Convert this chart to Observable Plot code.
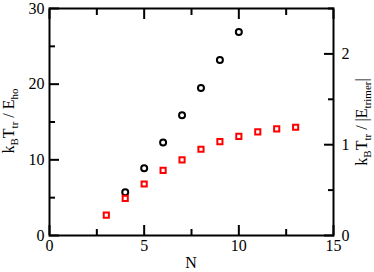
<!DOCTYPE html>
<html><head><meta charset="utf-8">
<script src="https://cdn.jsdelivr.net/npm/d3@7"></script>
<script src="https://cdn.jsdelivr.net/npm/@observablehq/plot@0.6"></script>
<style>
body{margin:0;background:#fff}
svg{display:block}
</style>
</head><body><div id="chart"></div>
<script>
const trimerN = [3, 4, 5, 6, 7, 8, 9, 10, 11, 12, 13];
const trimerT = [2.7, 4.9, 6.8, 8.6, 10.0, 11.4, 12.4, 13.1, 13.7, 14.1, 14.3];
const hoN = [4, 5, 6, 7, 8, 9, 10];
const hoT = [5.7, 8.9, 12.3, 15.9, 19.5, 23.2, 26.9];
const xMajor = [0, 5, 10, 15];
const xMinor = [2.5, 7.5, 12.5];
const yMajor = [0, 10, 20, 30];
const yMinor = [5, 15, 25];
const rightMajor = [0, 1, 2];
const rightMinor = [0.5, 1.5, 2.5];
const hoPerTrimer = 12;

const font = "\"Liberation Serif\", serif";
const blank = () => "";

const chart = Plot.plot({
  width: 374, height: 272,
  marginLeft: 49, marginRight: 41, marginTop: 8, marginBottom: 37,
  x: {domain: [0, 15]},
  y: {domain: [0, 30]},
  style: {fontSize: "16px", color: "black", background: "white"},
  marks: [
    Plot.axisX(xMajor, {anchor: "bottom", tickSize: -10, tickPadding: 14, strokeWidth: 2, label: null}),
    Plot.axisX(xMinor, {anchor: "bottom", tickSize: -6, tickFormat: blank, strokeWidth: 2, label: null}),
    Plot.axisX(xMajor, {anchor: "top", tickSize: -10, tickFormat: blank, strokeWidth: 2, label: null}),
    Plot.axisX(xMinor, {anchor: "top", tickSize: -6, tickFormat: blank, strokeWidth: 2, label: null}),
    Plot.axisY(yMajor, {anchor: "left", tickSize: -10, tickPadding: 15, strokeWidth: 2, label: null}),
    Plot.axisY(yMinor, {anchor: "left", tickSize: -6, tickFormat: blank, strokeWidth: 2, label: null}),
    Plot.axisY(rightMajor.map(v => v * hoPerTrimer), {anchor: "right", tickSize: -10, tickPadding: 18, strokeWidth: 2, tickFormat: d => String(Math.round(d / hoPerTrimer)), label: null}),
    Plot.axisY(rightMinor.map(v => v * hoPerTrimer), {anchor: "right", tickSize: -6, tickFormat: blank, strokeWidth: 2, label: null}),
    Plot.frame({stroke: "black", strokeWidth: 2}),
    Plot.dot(hoN, {x: d => d, y: (d, i) => hoT[i], symbol: "circle", r: 3, stroke: "black", strokeWidth: 2, fill: "none"}),
    Plot.dot(trimerN, {x: d => d, y: (d, i) => trimerT[i], symbol: "square", r: 2.9, stroke: "red", strokeWidth: 2, fill: "none"})
  ]
});
document.getElementById("chart").appendChild(chart);

const svg = d3.select(chart);
function titleText(parts, x, y) {
  const t = svg.append("text")
    .attr("transform", `translate(${x},${y}) rotate(-90)`)
    .attr("text-anchor", "middle")
    .attr("font-size", 16).attr("fill", "black");
  let down = false;
  for (const [s, sub] of parts) {
    const ts = t.append("tspan").text(s);
    if (sub && !down) { ts.attr("dy", 4).attr("font-size", 11); down = true; }
    else if (sub) { ts.attr("font-size", 11); }
    else if (down) { ts.attr("dy", -4); down = false; }
  }
}
titleText([["k", false], ["B", true], ["T", false], ["tr", true], [" / E", false], ["ho", true]], 14, 121);
titleText([["k", false], ["B", true], ["T", false], ["tr", true], [" / |E", false], ["trimer", true], ["|", false]], 367, 122);
svg.append("text").attr("x", 191).attr("y", 268).attr("text-anchor", "middle")
  .attr("font-size", 16).attr("fill", "black").text("N");
svg.attr("font-family", null).style("font-family", font);
svg.selectAll("g").attr("font-family", null);
svg.selectAll("text, tspan").style("font-family", font);
</script>
</body></html>
